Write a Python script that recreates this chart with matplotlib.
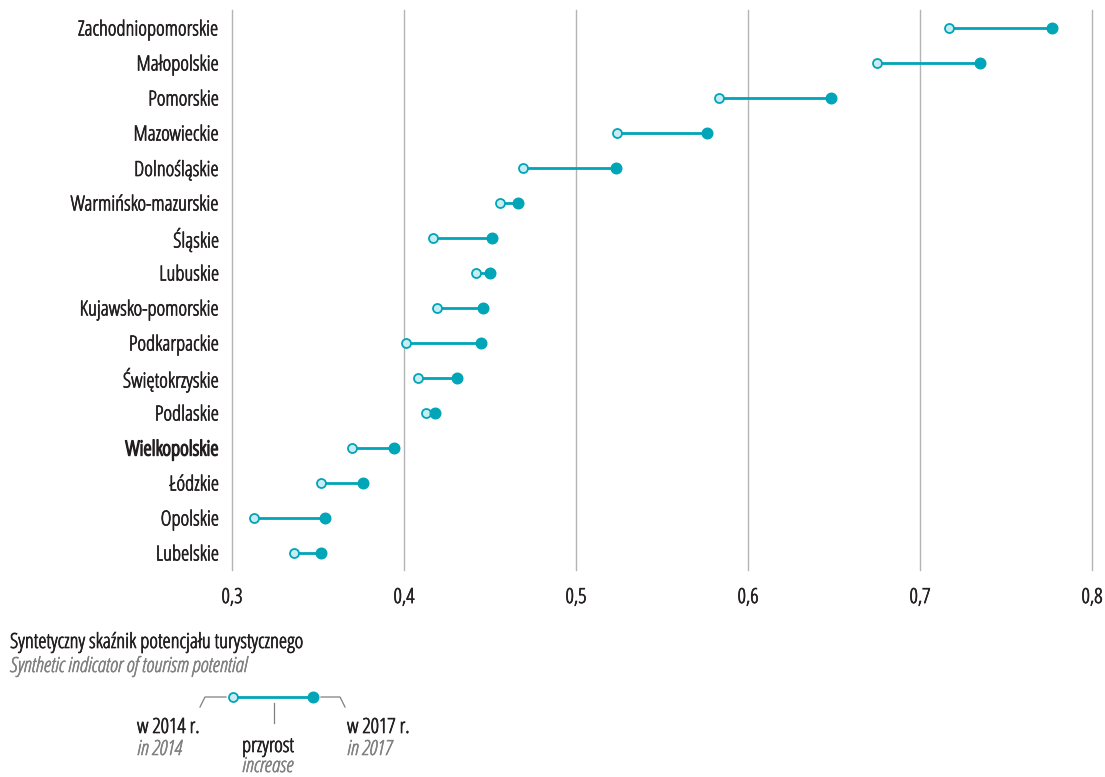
import matplotlib
matplotlib.use("Agg")
import matplotlib.pyplot as plt
import matplotlib.patheffects as pe

plt.rcParams['font.family'] = ['Open Sans', 'DejaVu Sans']
plt.rcParams['font.stretch'] = 'condensed'
plt.rcParams['font.weight'] = 'light'

regions = ["Zachodniopomorskie", "Małopolskie", "Pomorskie", "Mazowieckie",
           "Dolnośląskie", "Warmińsko-mazurskie", "Śląskie", "Lubuskie",
           "Kujawsko-pomorskie", "Podkarpackie", "Świętokrzyskie", "Podlaskie",
           "Wielkopolskie", "Łódzkie", "Opolskie", "Lubelskie"]
v2014 = [0.717, 0.675, 0.583, 0.524, 0.469, 0.456, 0.417, 0.442,
         0.419, 0.401, 0.408, 0.413, 0.370, 0.352, 0.313, 0.336]
v2017 = [0.777, 0.735, 0.648, 0.576, 0.523, 0.466, 0.451, 0.450,
         0.446, 0.445, 0.431, 0.418, 0.394, 0.376, 0.354, 0.352]
xticks = [0.3, 0.4, 0.5, 0.6, 0.7, 0.8]
xticklabels = ["0,3", "0,4", "0,5", "0,6", "0,7", "0,8"]

teal = "#00a5b8"
light = "#c9ecf2"
grid = "#b4b4b4"
dark = "#231f20"
gray = "#808080"
fs = 15

# fake a regular weight from the light condensed face
reg = [pe.withStroke(linewidth=0.5, foreground=dark)]
reg_gray = [pe.withStroke(linewidth=0.4, foreground=gray)]
bold = [pe.withStroke(linewidth=1.0, foreground=dark)]

W, H = 1105, 777
fig = plt.figure(figsize=(W / 100, H / 100), dpi=100)
ax = fig.add_axes([232 / W, 1 - 570 / H, 860 / W, 560 / H])

ypos = list(range(len(regions)))
for i in ypos:
    ax.plot([v2014[i], v2017[i]], [i, i], color=teal, lw=2, zorder=3,
            solid_capstyle='butt')
ax.scatter(v2014, ypos, s=42, facecolor=light, edgecolor=teal, lw=1.3, zorder=4)
ax.scatter(v2017, ypos, s=58, facecolor=teal, edgecolor=teal, lw=1, zorder=4)

ax.set_xlim(0.3, 0.8)
ax.set_ylim((570 - 28) / 35, (10 - 28) / 35)
for x in xticks:
    ax.axvline(x, color=grid, lw=1, zorder=1, clip_on=False)
for s in ax.spines.values():
    s.set_visible(False)
ax.set_xticks(xticks)
ax.set_xticklabels(xticklabels, fontsize=fs, color=dark)
ax.tick_params(axis='x', length=0, pad=13)
ax.set_yticks(ypos)
ax.set_yticklabels(regions, fontsize=fs, color=dark)
ax.tick_params(axis='y', length=0, pad=9)
for lbl in ax.get_xticklabels():
    lbl.set_path_effects(reg)
for lbl in ax.get_yticklabels():
    if lbl.get_text() == "Wielkopolskie":
        lbl.set_path_effects(bold)
    else:
        lbl.set_path_effects(reg)

# legend drawn in pixel space
lg = fig.add_axes([0, 0, 1, 1])
lg.set_xlim(0, W)
lg.set_ylim(H, 0)
lg.axis('off')
lg.patch.set_alpha(0)

def txt(x, y, s, italic=False):
    lg.text(x, y, s, fontsize=fs, color=gray if italic else dark,
            style='italic' if italic else 'normal', va='baseline',
            path_effects=reg_gray if italic else reg)

txt(10, 648, "Syntetyczny skaźnik potencjału turystycznego")
txt(10, 672, "Synthetic indicator of tourism potential", italic=True)

lg.plot([233, 313], [697, 697], color=teal, lw=2, solid_capstyle='butt')
lg.scatter([233], [697], s=42, facecolor=light, edgecolor=teal, lw=1.3, zorder=4)
lg.scatter([313], [697], s=58, facecolor=teal, edgecolor=teal, zorder=4)
lg.plot([200, 205, 226], [707, 697, 697], color=gray, lw=0.9)
lg.plot([321, 340, 345], [697, 697, 707], color=gray, lw=0.9)
lg.plot([274, 274], [703, 723], color=gray, lw=0.9)

txt(137, 733, "w 2014 r.")
txt(137, 755, "in 2014", italic=True)
txt(242, 752, "przyrost")
txt(242, 772, "increase", italic=True)
txt(347, 733, "w 2017 r.")
txt(347, 755, "in 2017", italic=True)

fig.savefig("out.png", dpi=100)
